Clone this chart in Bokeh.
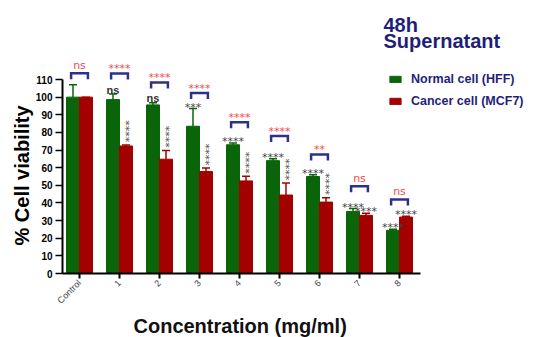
import numpy as np
from bokeh.plotting import figure
from bokeh.models import (ColumnDataSource, Whisker, TeeHead, FixedTicker, Range1d,
                          Label, Title, Legend, LegendItem)
from bokeh.core.properties import value
from bokeh.embed import file_html
from bokeh.resources import INLINE

# ---------------- data ----------------
categories = ["Control", "1", "2", "3", "4", "5", "6", "7", "8"]
normal_mean = [100.0, 98.6, 95.6, 83.5, 73.0, 64.0, 55.0, 35.2, 24.5]
normal_err = [7.0, 3.2, 1.2, 10.0, 1.0, 1.0, 1.0, 1.6, 0.6]
cancer_mean = [100.0, 72.3, 64.8, 57.8, 52.5, 44.5, 40.5, 33.0, 32.0]
cancer_err = [0.0, 0.6, 5.0, 2.0, 2.6, 6.8, 2.5, 1.2, 0.4]
normal_sig = ["", "ns", "ns", "***", "****", "****", "****", "****", "****"]
cancer_sig = ["", "****", "****", "****", "****", "****", "****", "****", "****"]
pair_sig = ["ns", "****", "****", "****", "****", "****", "**", "ns", "ns"]
pair_level = [113.5, 113.4, 108.3, 102.4, 85.8, 77.9, 67.5, 49.5, 42.0]
y_ticks = list(range(0, 111, 10))
series_names = ["Normal cell (HFF)", "Cancer cell (MCF7)"]
title_lines = ["48h", "Supernatant"]
x_title = "Concentration (mg/ml)"
y_title = "% Cell viability"

GREEN = "#0a650a"
RED = "#a30000"
NAVY = "#1f1f7a"
BRACKET = "#2e3188"
SIGRED = "#f04a4f"
FONT = "Liberation Sans"

# ---------------- geometry ----------------
n = len(categories)
x = np.arange(n, dtype=float)
bw = 0.325
xg = x - bw / 2
xr = x + bw / 2
g_top = np.array(normal_mean) + np.array(normal_err)
r_top = np.array(cancer_mean) + np.array(cancer_err)

W, H = 535, 337
LEFT, BOTTOM = 62, 64
px_per_cat = 40.0
px_per_unit = 194.0 / 110.0
x0 = -0.425
p = figure(width=W, height=H, output_backend="svg", toolbar_location=None,
           x_range=Range1d(x0, x0 + (W - LEFT) / px_per_cat),
           y_range=Range1d(0, (H - BOTTOM) / px_per_unit))
p.min_border_left = LEFT
p.min_border_bottom = BOTTOM
p.min_border_top = 0
p.min_border_right = 0
p.outline_line_color = None
p.grid.visible = False
p.background_fill_color = "white"
p.border_fill_color = "white"

src = ColumnDataSource(dict(xg=xg, xr=xr, g=normal_mean, r=cancer_mean,
                            gu=g_top, ru=r_top))
rg = p.vbar(x="xg", top="g", bottom=0, width=bw, fill_color=GREEN,
            line_color=GREEN, source=src)
rr = p.vbar(x="xr", top="r", bottom=0, width=bw, fill_color=RED,
            line_color=RED, source=src)

p.add_layout(Whisker(source=src, base="xg", upper="gu", lower="g", dimension="height",
                     line_color=GREEN, line_width=1.5, lower_head=None,
                     upper_head=TeeHead(size=8, line_color=GREEN, line_width=1.5)))
p.add_layout(Whisker(source=src, base="xr", upper="ru", lower="r", dimension="height",
                     line_color=RED, line_width=1.5, lower_head=None,
                     upper_head=TeeHead(size=8, line_color=RED, line_width=1.5)))

# brackets between pairs
hw = 0.21
leg = 3.4
bxs = [[xi - hw, xi - hw, xi + hw, xi + hw] for xi in x]
bys = [[L - leg, L, L, L - leg] for L in pair_level]
p.multi_line(xs=bxs, ys=bys, line_color=BRACKET, line_width=2.5, line_join="miter")

# pair significance (red, above bracket)
pair_y = [L + (4.3 if s == "ns" else 2.6) for s, L in zip(pair_sig, pair_level)]
p.text(x=list(x), y=pair_y, text=pair_sig, text_align="center", text_baseline="middle",
       text_font=value("DejaVu Sans"), text_font_size="11px", text_color=SIGRED)

# normal-cell significance vs control (above green bars)
ns_idx = [i for i, s in enumerate(normal_sig) if s == "ns"]
st_idx = [i for i, s in enumerate(normal_sig) if s not in ("", "ns")]
p.text(x=[xg[i] for i in ns_idx], y=[g_top[i] + 2.5 for i in ns_idx],
       text=[normal_sig[i] for i in ns_idx], text_align="center",
       text_baseline="alphabetic", text_font=value(FONT), text_font_style="bold",
       text_font_size="11px", text_color="#333333")
p.text(x=[xg[i] for i in st_idx], y=[g_top[i] + 0.8 for i in st_idx],
       text=[normal_sig[i] for i in st_idx], text_align="center",
       text_baseline="alphabetic", text_font=value("DejaVu Sans"),
       text_font_size="11px", text_color="#444444")

# cancer-cell significance vs control (vertical for 1-6, horizontal for 7-8)
v_idx = [i for i in range(1, 7) if cancer_sig[i]]
h_idx = [i for i in range(7, n) if cancer_sig[i]]
p.text(x=[xr[i] for i in v_idx], y=[r_top[i] + 1.5 for i in v_idx],
       text=[cancer_sig[i] for i in v_idx], angle=np.pi / 2, x_offset=3,
       text_align="left", text_baseline="middle", text_font=value("DejaVu Sans"),
       text_font_size="11px", text_color="#555555")
p.text(x=[xr[i] for i in h_idx], y=[r_top[i] + 0.8 for i in h_idx],
       text=[cancer_sig[i] for i in h_idx], text_align="center",
       text_baseline="alphabetic", text_font=value("DejaVu Sans"),
       text_font_size="11px", text_color="#444444")

# axes
xa = p.xaxis[0]
xa.ticker = FixedTicker(ticks=list(range(n)))
xa.major_label_overrides = {i: c for i, c in enumerate(categories)}
xa.major_label_orientation = np.pi / 4
xa.major_label_text_font = FONT
xa.major_label_text_font_size = "9px"
xa.major_label_text_color = "#444444"
xa.bounds = (x0, n - 1 + 0.525)
xa.axis_line_width = 2
xa.major_tick_line_width = 2
xa.major_tick_in = 0
xa.major_tick_out = 5
xa.minor_tick_line_color = None
xa.major_label_standoff = 3

ya = p.yaxis[0]
ya.ticker = FixedTicker(ticks=y_ticks)
ya.bounds = (0, 110)
ya.major_label_text_font = FONT
ya.major_label_text_font_style = "bold"
ya.major_label_text_font_size = "10px"
ya.major_label_text_color = "black"
ya.axis_line_width = 2
ya.major_tick_line_width = 1.5
ya.major_tick_in = 0
ya.major_tick_out = 7
ya.minor_tick_line_color = None
ya.major_label_standoff = 3

# axis titles as side-panel titles, shifted along the axis to centre on its bounds
p.add_layout(Title(text=y_title, align="left", offset=28, standoff=0,
                   text_font=FONT, text_font_style="bold", text_font_size="20px",
                   text_color="black"), "left")
p.add_layout(Title(text=x_title, align="left", offset=71, standoff=0,
                   text_font=FONT, text_font_style="bold", text_font_size="20px",
                   text_color="#111111"), "below")

# legend
legend = Legend(items=[LegendItem(label=series_names[0], renderers=[rg]),
                       LegendItem(label=series_names[1], renderers=[rr])],
                location=(326, 165), orientation="vertical",
                glyph_width=14, glyph_height=8, label_standoff=9, spacing=8,
                padding=0, margin=0, border_line_alpha=0, background_fill_alpha=0,
                label_text_font=FONT, label_text_font_style="bold",
                label_text_font_size="12.5px", label_text_color=NAVY, label_height=8)
p.add_layout(legend)

p.add_layout(Label(x=321, y=249, x_units="screen", y_units="screen", text=title_lines[0],
                   text_font=FONT, text_font_style="bold", text_font_size="20px",
                   text_color=NAVY, text_baseline="alphabetic"))
p.add_layout(Label(x=321, y=233, x_units="screen", y_units="screen", text=title_lines[1],
                   text_font=FONT, text_font_style="bold", text_font_size="20px",
                   text_color=NAVY, text_baseline="alphabetic"))

open("out.html", "w").write(file_html(p, INLINE))
